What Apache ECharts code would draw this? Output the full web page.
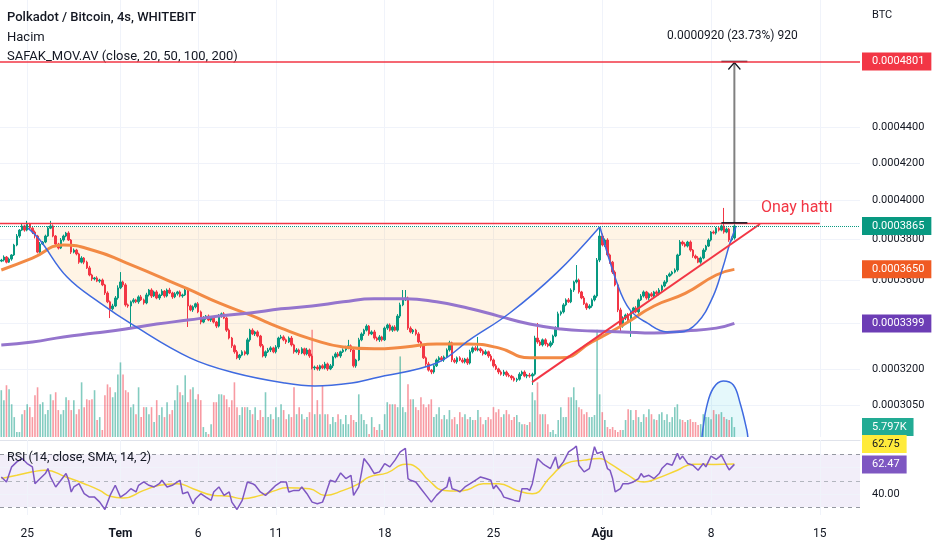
<!DOCTYPE html>
<html>
<head>
<meta charset="utf-8">
<title>Polkadot / Bitcoin</title>
<script src="https://cdn.jsdelivr.net/npm/echarts@6/dist/echarts.min.js"></script>
<style>
html,body{margin:0;padding:0;background:#ffffff;}
#chart{width:932px;height:550px;}
</style>
</head>
<body>
<div id="chart"></div>
<script>
// ---------------- DATA (prices in units of 0.0000001 BTC) ----------------
const startDate = '2022-06-23 08:00';          // first 4h candle
const categoryCount = 332;                      // candles + empty right margin
const tickDates = ['2022-06-25','2022-07-01','2022-07-06','2022-07-11','2022-07-18','2022-07-25','2022-08-01','2022-08-08','2022-08-15'];
const tickTexts = ['25','Tem','6','11','18','25','Ağu','8','15'];
const tickIsMonth = [false,true,false,false,false,false,true,false,false];

const firstOpen = 3690;
const closes = [
3695,3710,3685,3700,3720,3769,3814,3844,3865,3844,
3875,3854,3834,3814,3734,3774,3784,3814,3854,3865,
3814,3774,3754,3794,3814,3829,3794,3734,3744,3725,
3685,3705,3685,3657,3623,3604,3609,3594,3599,3576,
3538,3497,3465,3478,3515,3562,3590,3576,3483,3478,
3497,3506,3497,3520,3506,3492,3529,3552,3524,3543,
3515,3529,3547,3524,3552,3538,3520,3534,3543,3524,
3529,3552,3478,3460,3474,3488,3451,3405,3423,3432,
3414,3423,3405,3387,3432,3442,3423,3369,3334,3300,
3274,3248,3260,3274,3265,3326,3369,3352,3361,3343,
3300,3256,3274,3282,3291,3274,3295,3334,3339,3326,
3317,3334,3304,3274,3282,3269,3287,3265,3282,3256,
3205,3209,3201,3214,3205,3222,3201,3214,3252,3265,
3256,3274,3282,3291,3300,3282,3214,3239,3326,3352,
3369,3387,3352,3361,3334,3326,3339,3326,3378,3392,
3369,3383,3369,3432,3483,3506,3515,3378,3361,3369,
3352,3317,3300,3248,3222,3196,3188,3214,3239,3248,
3239,3252,3282,3313,3239,3231,3248,3239,3231,3243,
3226,3274,3291,3282,3287,3278,3265,3274,3256,3239,
3214,3201,3188,3179,3188,3175,3171,3163,3154,3158,
3179,3188,3171,3175,3171,3179,3334,3317,3304,3326,
3308,3300,3313,3343,3378,3442,3451,3483,3506,3497,
3552,3590,3599,3543,3515,3488,3469,3478,3506,3524,
3695,3814,3769,3794,3720,3685,3637,3576,3460,3387,
3423,3437,3414,3451,3469,3451,3506,3524,3543,3515,
3534,3524,3543,3534,3552,3571,3590,3618,3628,3637,
3647,3720,3784,3774,3764,3784,3744,3715,3705,3685,
3705,3744,3764,3794,3834,3829,3854,3844,3865,3834,
3849,3794,3804,3865
];
const wickUp = [
6,8,5,7,4,6,10,5,12,6, 16,6,5,8,6,10,5,7,9,26, 8,5,6,10,7,6,9,5,8,6, 6,9,5,7,10,6,5,8,6,7,
5,8,6,10,9,12,47,6,8,6, 6,8,5,7,9,6,10,5,8,6, 8,6,9,5,7,10,6,8,5,7, 6,9,8,6,7,5,8,6,9,5,
7,6,8,5,9,6,8,6,7,5, 6,8,5,7,6,9,6,8,5,7, 5,8,6,9,7,5,8,6,9,7, 6,7,9,5,8,6,7,5,9,6,
10,6,8,5,7,9,6,8,5,7, 8,5,7,9,26,6,8,5,9,7, 6,8,5,7,9,6,8,5,7,6, 7,6,8,9,10,46,37,6,8,5,
6,8,5,7,6,9,5,8,6,7, 8,6,7,9,5,8,6,7,9,5, 7,9,6,8,52,6,7,9,5,8, 6,8,5,7,9,6,8,5,7,6,
8,6,7,5,9,6,10,67,8,6, 7,5,9,6,8,10,6,8,7,9, 8,6,72,7,5,9,6,8,7,6, 10,46,12,8,9,7,6,8,6,10,
8,6,9,7,5,8,6,9,7,5, 6,8,5,7,9,6,8,5,7,6, 8,6,10,7,9,6,8,5,7,9, 7,9,6,8,5,8,6,9,7,93,
8,6,7,9
];
const wickDown = [
5,7,6,4,8,5,6,9,5,8, 6,8,10,12,6,7,5,6,4,5, 6,10,7,5,8,6,5,9,6,7, 8,6,10,5,6,9,7,5,8,6,
9,6,42,7,5,8,6,10,8,8, 100,7,6,9,5,8,6,7,9,5, 6,9,5,8,6,5,9,6,8,6, 8,5,95,6,9,7,6,10,5,8,
5,8,6,9,6,7,5,8,6,9, 8,6,9,5,7,6,8,5,9,6, 7,6,8,5,9,6,7,8,5,6, 9,5,7,8,6,9,5,7,6,8,
6,9,7,8,5,6,8,5,9,6, 6,8,5,7,6,9,7,8,5,6, 9,6,8,5,7,6,9,7,5,8, 6,8,5,7,9,6,5,8,6,9,
7,6,9,5,8,6,9,7,5,8, 6,8,5,7,9,6,8,5,6,7, 8,6,7,5,6,9,7,5,8,6, 7,5,9,6,8,7,5,9,6,8,
6,8,5,9,7,37,6,8,5,7, 8,6,7,9,5,6,8,7,6,5, 6,9,7,8,6,5,9,6,8,7, 8,10,7,9,6,8,9,7,10,26,
7,9,6,75,8,6,9,5,7,8, 9,6,8,5,7,9,6,8,5,7, 6,8,5,9,6,7,8,9,6,5, 8,6,9,5,7,6,8,7,6,8,
6,9,7,8
];
// volume in thousands (K)
const volumes = [
27.3,21.5,30.2,27.8,19.1,11.6,2.9,2.9,13.3,15.7, 19.1,17.4,11.6,24.4,29.0,19.1,20.3,13.3,15.7,
24.9,21.5,26.1,15.7,13.3,15.7,23.2,21.5,15.7,21.5, 13.3,16.2,31.9,17.4,22.0,21.5,22.0,27.3,9.9,11.6,
4.1,24.4,30.7,29.0,23.2,26.1,36.5,43.5,36.5, 27.3,26.1,17.4,19.1,13.3,29.0,11.6,17.4,17.4,13.3,
17.4,8.7,21.5,12.8,17.4,11.6,20.3,13.3,15.7,21.5, 30.2,26.1,24.4,36.0,
20.3,27.8,29.0,22.0,24.9,21.5,5.8,2.9,1.7, 7.5,20.3,20.3,24.9,24.9,24.4,22.0,17.4,21.5,
31.9,17.4,12.8,17.4,17.4,17.4,15.7,13.3,17.4,9.9, 15.7,11.6,26.1,11.6,13.3,10.4,17.4,11.6,19.1,
15.7,10.4,13.3,11.6,29.0,13.3,17.4,13.3,10.4,11.6, 14.5,62.6,13.3,21.5,13.3,30.2,13.3,13.3,7.5,11.6,
8.7,13.3,10.4,7.5,12.8,7.5,12.8,9.9,8.7, 24.9,13.3,9.9,7.5,1.7,
11.6,5.8,4.1,7.5,4.1,13.3,20.3,19.1,19.1,19.1, 17.4,47.0,17.4,14.5,30.7,22.0,22.0,17.4,15.7,
23.2,19.1,17.4,19.1,22.0,11.6,13.3,17.4,10.4,12.8, 10.4,15.7,10.4,11.6,7.5,14.5,11.6,13.3,10.4,11.6,
9.9,9.9,15.7,11.6,7.5,9.9,11.6,10.4,17.4, 14.5,16.2,11.6,13.3,15.7,13.3,9.9,11.6,12.8,8.7,
7.5,7.5,7.0,8.7,26.1,21.5,31.9,13.3,13.3, 13.3,7.5,
2.9,4.1,1.7,9.9,17.4,11.6,11.6,23.2,23.2,29.0, 21.5,17.4,16.2,13.3,14.5,11.6,11.6,12.8,62.6,24.9,
14.5,9.9,5.8,4.6,5.8,4.1,2.9,4.1,4.1,9.9, 16.2,15.7,9.9,15.7,11.6,8.7,13.3,11.6,16.2,13.3,
10.4,9.9,13.3,14.5,9.9,13.3,8.7,11.6,17.4,19.1, 10.4,9.9,8.7,9.9,10.4,8.7,8.7,7.0,7.5,
13.3,11.6,11.6,10.4,15.7,13.3,13.3,14.5,11.6,10.4,9.9,11.6,5.797
];
// moving averages read at candle indices
const maIndex = [0,12,24,36,48,60,72,84,96,108,120,132,144,156,168,180,192,204,216,228,240,252,264,276,283];
const orangeMA = [3647,3705,3769,3741,3683,3620,3557,3492,3437,3378,3328,3295,3287,3295,3308,3308,3291,3248,3248,3317,3392,3478,3536,3623,3650];
const purpleMA = [3304,3317,3339,3356,3374,3396,3414,3432,3446,3465,3478,3497,3511,3511,3497,3469,3432,3396,3374,3365,3361,3356,3365,3378,3399];
// RSI (14) and its SMA, read as [candle index, value]
const rsiPoints = [[0,52.9],[2,49.1],[4,60.6],[6,64.4],[8,66.9],[10,63.1],[12,60.6],[13,47.8],[15,51.7],[17,55.5],[18,59.3],[19,52.9],[21,45.3],[23,50.4],[25,55.5],[26,50.4],[27,41.5],[28,45.3],[30,47.8],[32,40.2],[34,37.6],[36,37.6],[38,33.8],[40,28.2],[42,38.9],[44,46.6],[46,37.6],[48,40.2],[50,44.0],[52,41.5],[53,46.6],[55,49.1],[57,46.6],[59,45.3],[61,47.8],[62,50.4],[64,45.3],[66,46.6],[68,49.1],[69,50.4],[70,40.2],[72,41.5],[74,32.5],[75,36.4],[77,40.2],[79,37.6],[81,35.1],[82,41.5],[84,45.3],[86,38.9],[88,41.5],[89,33.8],[91,28.2],[93,35.1],[95,49.1],[97,47.8],[98,46.6],[100,41.5],[102,38.9],[104,42.7],[106,46.6],[108,49.1],[110,49.1],[111,41.5],[113,42.7],[115,42.7],[116,45.3],[118,40.2],[120,33.8],[122,32.5],[124,33.8],[125,38.9],[127,50.4],[129,49.1],[131,56.0],[133,51.7],[135,54.2],[136,38.9],[138,45.3],[139,55.5],[140,66.9],[142,61.8],[144,55.5],[146,56.8],[148,63.1],[150,60.6],[152,65.7],[154,72.0],[156,74.6],[157,51.7],[158,50.4],[160,49.1],[162,44.0],[164,38.9],[166,33.8],[168,38.9],[170,42.7],[172,45.3],[173,52.9],[174,44.0],[176,42.7],[177,41.5],[179,45.3],[181,47.8],[183,50.4],[185,52.9],[187,51.7],[189,50.4],[190,44.0],[191,46.6],[193,41.5],[194,37.6],[196,36.4],[198,35.1],[200,34.3],[201,44.0],[203,44.0],[204,42.7],[205,47.8],[207,66.9],[209,63.1],[210,61.8],[212,59.3],[214,68.2],[215,59.3],[217,64.4],[219,72.0],[221,74.6],[222,76.4],[223,61.8],[225,56.8],[227,59.3],[229,75.9],[230,70.8],[232,72.0],[234,59.3],[235,58.0],[236,51.7],[237,41.5],[239,44.0],[240,47.8],[242,47.8],[244,49.1],[246,51.7],[247,55.5],[248,52.9],[250,54.2],[252,51.7],[254,55.5],[255,59.3],[257,63.1],[259,61.8],[261,70.8],[262,66.3],[263,68.8],[265,63.1],[267,61.8],[269,58.0],[271,63.1],[272,60.6],[274,68.8],[276,66.3],[278,69.5],[280,61.8],[281,58.3],[283,62.47]];
const rsiMaPoints = [[0,51.7],[6,54.2],[12,56.8],[17,58.0],[25,52.9],[32,47.8],[38,42.7],[42,38.2],[47,36.9],[55,42.7],[61,46.6],[68,47.8],[74,44.0],[82,38.9],[88,38.2],[93,36.4],[100,38.9],[106,42.7],[110,44.8],[119,44.0],[125,38.9],[132,42.7],[138,47.8],[142,52.9],[149,56.0],[156,62.6],[160,60.6],[165,50.4],[171,42.7],[176,42.2],[180,43.2],[186,47.8],[192,47.8],[199,42.7],[205,40.2],[212,52.9],[218,63.1],[225,65.7],[231,66.9],[235,63.1],[241,55.5],[248,49.1],[253,51.7],[261,58.0],[267,62.6],[275,62.4],[283,62.75]];
const rsiLevels = [70, 50, 30];
const rsiGrid = [60, 40];
const rsiTickLabels = [40];

// price scale ticks and markers
const priceTicks = [4400,4200,4000,3800,3600,3400,3200,3050];
const priceTickLabelsShown = [4400,4200,4000,3800,3600,3200,3050];
const targetPrice = 4801;
const necklinePrice = 3878;
const necklineEnd = 316;

// drawings: [candle index, price]
const cupCurve = [[10.3,3854],[14.9,3794],[25.4,3613],[38.1,3492],[50.8,3392],[72.8,3248],[90.2,3184],[109.5,3142],[121,3130],[135.3,3142],[144.2,3163],[168.1,3226],[180.8,3326],[196.3,3446],[214.4,3633],[231,3860]];
const handleCurve = [[231.1,3860],[237.7,3585],[242.7,3460],[249.3,3401],[257,3361],[262,3361],[268.6,3401],[274.7,3520],[278.6,3661],[281.3,3779],[283.6,3860]];
const chordPrice = 3860;
const trendLine = [[204.9,3146],[292.9,3875]];
const volumeArc = [[270.5,0],[270.8,4.1],[272.3,17.7],[274.9,28.6],[278.7,32.6],[282.6,30.3],[285.2,19.8],[287.8,4.1],[288.2,0]];
const measure = { at: 283, from: 3881, to: 4801, text: '0.0000920 (23.73%) 920' };
const noteText = { at: 321, price: 3878, text: 'Onay hattı' };

// ---------------- BUILD ----------------
const UP = '#089981', DOWN = '#F23645';
const VOL_UP = 'rgba(8,153,129,0.5)', VOL_DOWN = 'rgba(242,54,69,0.5)';
const ORANGE = '#F28A45', ORANGE_BOX = '#F05A22';
const PURPLE = '#9575CD', PURPLE_BOX = '#6C3DB5';
const BLUE = '#3F6AE0';
const GRID = '#f0f3fa';
const FONT = 'Roboto';
const fmtP = v => (v * 1e-7).toFixed(7);

const categories = [];
(function(){
  const t0 = Date.UTC(+startDate.slice(0,4), +startDate.slice(5,7)-1, +startDate.slice(8,10), +startDate.slice(11,13));
  const p = n => String(n).padStart(2,'0');
  for (let i = 0; i < categoryCount; i++) {
    const d = new Date(t0 + i * 4 * 3600 * 1000);
    categories.push(d.getUTCFullYear() + '-' + p(d.getUTCMonth()+1) + '-' + p(d.getUTCDate()) + ' ' + p(d.getUTCHours()) + ':00');
  }
})();
const tickIndex = tickDates.map(d => categories.indexOf(d + ' 00:00'));

const candleData = closes.map((c, i) => {
  const o = i === 0 ? firstOpen : closes[i-1];
  return [o, c, Math.min(o, c) - wickDown[i], Math.max(o, c) + wickUp[i]];
});
const volData = volumes.map((v, i) => ({ value: v, itemStyle: { color: candleData[i][1] >= candleData[i][0] ? VOL_UP : VOL_DOWN } }));
const orangeData = maIndex.map((x, k) => [x, orangeMA[k]]);
const purpleData = maIndex.map((x, k) => [x, purpleMA[k]]);

// price axis: log scale
const PRICE_MIN = 2926.2, PRICE_MAX = 5206.5;

const boxLabel = (bg, text, fg) => ({
  show: true, position: 'end', distance: 2, backgroundColor: bg, color: fg || '#ffffff',
  padding: [4, 7, 3, 10], fontSize: 11, fontFamily: FONT, formatter: () => text
});
const plainLabel = text => ({
  show: true, position: 'end', distance: 12, color: '#131722', fontSize: 11, fontFamily: FONT, formatter: () => text
});

const mainGridLines = priceTicks.map(v => ({
  yAxis: v, lineStyle: { color: GRID, width: 1, type: 'solid' },
  label: priceTickLabelsShown.includes(v) ? plainLabel(fmtP(v)) : { show: false }
})).concat(tickIndex.map(ix => ({ xAxis: ix, lineStyle: { color: GRID, width: 1, type: 'solid' }, label: { show: false } })));

const lastClose = closes[closes.length - 1];
const mainBoxes = [
  { yAxis: targetPrice, lineStyle: { color: '#F23645', width: 1.5, type: 'solid' }, label: boxLabel('#F23645', fmtP(targetPrice)) },
  { yAxis: lastClose, lineStyle: { color: UP, width: 1, type: 'dotted' }, label: boxLabel(UP, fmtP(lastClose)) },
  { yAxis: orangeMA[orangeMA.length-1], lineStyle: { color: 'transparent', width: 0 }, label: boxLabel(ORANGE_BOX, fmtP(orangeMA[orangeMA.length-1])) },
  { yAxis: purpleMA[purpleMA.length-1], lineStyle: { color: 'transparent', width: 0 }, label: boxLabel(PURPLE_BOX, fmtP(purpleMA[purpleMA.length-1])) }
];

const lastRsi = rsiPoints[rsiPoints.length-1][1];
const lastRsiMa = rsiMaPoints[rsiMaPoints.length-1][1];
const titleStyle = { fontSize: 13, fontWeight: 'normal', color: '#131722', fontFamily: FONT };

const option = {
  backgroundColor: '#ffffff',
  animation: false,
  textStyle: { fontFamily: FONT },
  title: [
    { text: 'Polkadot / Bitcoin, 4s, WHITEBIT', left: 7, top: 11, padding: 0, textStyle: Object.assign({}, titleStyle, { fontWeight: 500 }) },
    { text: 'Hacim', left: 7, top: 31, padding: 0, textStyle: titleStyle },
    { text: 'SAFAK_MOV.AV (close, 20, 50, 100, 200)', left: 7, top: 50, padding: 0, textStyle: titleStyle },
    { text: 'RSI (14, close, SMA, 14, 2)', left: 7, top: 451, padding: 0, textStyle: Object.assign({}, titleStyle, { fontSize: 12.5 }) },
    { text: 'BTC', left: 872, top: 10, padding: 0, textStyle: { fontSize: 11, fontWeight: 'normal', color: '#131722', fontFamily: FONT } }
  ],
  grid: [
    { left: 0, top: 0, width: 860, height: 437, outerBoundsMode: 'none' },
    { left: 0, top: 317, width: 860, height: 120, outerBoundsMode: 'none' },
    { left: 0, top: 440, width: 860, height: 75, outerBoundsMode: 'none' }
  ],
  xAxis: [
    { type: 'category', gridIndex: 0, data: categories, show: false },
    { type: 'value', gridIndex: 0, min: -0.5, max: categoryCount - 0.5, show: false, position: 'top' },
    { type: 'category', gridIndex: 1, data: categories, show: false },
    { type: 'category', gridIndex: 2, data: categories, position: 'bottom',
      axisLine: { show: false }, axisTick: { show: false }, splitLine: { show: false },
      axisLabel: {
        interval: (idx) => tickIndex.includes(idx),
        formatter: (val, idx) => { const k = tickIndex.indexOf(idx); if (k < 0) return ''; return tickIsMonth[k] ? '{m|' + tickTexts[k] + '}' : tickTexts[k]; },
        color: '#131722', fontSize: 12, fontFamily: FONT, margin: 13,
        rich: { m: { fontWeight: 'bold', fontSize: 12, fontFamily: FONT, color: '#131722' } }
      }
    },
    { type: 'value', gridIndex: 2, min: -0.5, max: categoryCount - 0.5, position: 'top',
      axisLine: { show: true, lineStyle: { color: '#e0e3eb', width: 1 } }, axisTick: { show: false }, axisLabel: { show: false }, splitLine: { show: false } },
    { type: 'value', gridIndex: 1, min: -0.5, max: categoryCount - 0.5, show: false, position: 'top' }
  ],
  yAxis: [
    { type: 'log', logBase: 10, gridIndex: 0, min: PRICE_MIN, max: PRICE_MAX, show: false, splitLine: { show: false } },
    { type: 'value', gridIndex: 1, min: 0, max: 70, show: false, splitLine: { show: false } },
    { type: 'value', gridIndex: 2, min: 24, max: 81, show: false, splitLine: { show: false } }
  ],
  series: [
    // grid lines + price tick labels
    { type: 'line', name: 'gridHelper', xAxisIndex: 1, yAxisIndex: 0, data: [], z: 0,
      markLine: { silent: true, symbol: ['none','none'], z: 0, animation: false, data: mainGridLines } },
    // cup & handle fills
    { type: 'line', xAxisIndex: 1, yAxisIndex: 0, data: cupCurve, smooth: 0.4, symbol: 'none', z: 1, silent: true,
      lineStyle: { width: 0, color: 'transparent' }, areaStyle: { origin: chordPrice, color: 'rgba(255,152,0,0.1)', opacity: 1 } },
    { type: 'line', xAxisIndex: 1, yAxisIndex: 0, data: handleCurve, smooth: 0.4, symbol: 'none', z: 1, silent: true,
      lineStyle: { width: 0, color: 'transparent' }, areaStyle: { origin: chordPrice, color: 'rgba(255,152,0,0.1)', opacity: 1 } },
    // volume arc fill
    { type: 'line', xAxisIndex: 5, yAxisIndex: 1, data: volumeArc, smooth: 0.4, symbol: 'none', z: 1, silent: true,
      lineStyle: { width: 0, color: 'transparent' }, areaStyle: { origin: 'start', color: 'rgba(38,198,218,0.12)', opacity: 1 } },
    // volume
    { type: 'bar', name: 'Hacim', xAxisIndex: 2, yAxisIndex: 1, data: volData, barWidth: '62%', z: 2,
      markLine: { silent: true, symbol: ['none','none'], z: 20, animation: false,
        data: [{ yAxis: volumes[volumes.length-1], lineStyle: { color: 'transparent', width: 0 }, label: boxLabel('#22AB94', volumes[volumes.length-1].toFixed(3) + 'K') }] } },
    // candles
    { type: 'candlestick', name: 'DOTBTC', xAxisIndex: 0, yAxisIndex: 0, data: candleData, barWidth: 2, z: 3,
      itemStyle: { color: UP, color0: DOWN, borderColor: UP, borderColor0: DOWN, borderWidth: 1 } },
    // moving averages
    { type: 'line', name: 'MA', xAxisIndex: 1, yAxisIndex: 0, data: orangeData, smooth: true, symbol: 'none', z: 4,
      lineStyle: { color: ORANGE, width: 3 } },
    { type: 'line', name: 'MA200', xAxisIndex: 1, yAxisIndex: 0, data: purpleData, smooth: true, symbol: 'none', z: 4,
      lineStyle: { color: PURPLE, width: 3 },
      markLine: { silent: true, symbol: ['none','none'], z: 20, animation: false, data: mainBoxes } },
    // drawings: cup and handle outlines
    { type: 'line', xAxisIndex: 1, yAxisIndex: 0, data: cupCurve, smooth: 0.4, symbol: 'none', z: 5, silent: true,
      lineStyle: { color: BLUE, width: 1.5 } },
    { type: 'line', xAxisIndex: 1, yAxisIndex: 0, data: handleCurve, smooth: 0.4, symbol: 'none', z: 5, silent: true,
      lineStyle: { color: BLUE, width: 1.5 } },
    { type: 'line', xAxisIndex: 5, yAxisIndex: 1, data: volumeArc, smooth: 0.4, symbol: 'none', z: 5, silent: true,
      lineStyle: { color: BLUE, width: 1.5 } },
    // neckline and rising trend line
    { type: 'line', xAxisIndex: 1, yAxisIndex: 0, data: [[-0.5, necklinePrice], [necklineEnd, necklinePrice]], symbol: 'none', z: 5, silent: true,
      lineStyle: { color: '#F23645', width: 1.5 } },
    { type: 'line', xAxisIndex: 1, yAxisIndex: 0, data: trendLine, symbol: 'none', z: 5, silent: true,
      lineStyle: { color: '#F23645', width: 2 } },
    // measurement tool
    { type: 'custom', xAxisIndex: 1, yAxisIndex: 0, z: 6, silent: true, data: [[measure.at, measure.to]],
      renderItem: (params, api) => {
        const top = api.coord([measure.at, measure.to]);
        const bot = api.coord([measure.at, measure.from]);
        const cx = top[0];
        return { type: 'group', children: [
          { type: 'line', shape: { x1: cx, y1: bot[1], x2: cx, y2: top[1] }, style: { stroke: '#808080', lineWidth: 2 } },
          { type: 'line', shape: { x1: cx - 13, y1: top[1], x2: cx + 13, y2: top[1] }, style: { stroke: '#131722', lineWidth: 1.5 } },
          { type: 'line', shape: { x1: cx - 13, y1: bot[1], x2: cx + 13, y2: bot[1] }, style: { stroke: '#131722', lineWidth: 1.5 } },
          { type: 'polyline', shape: { points: [[cx - 6, top[1] + 8], [cx, top[1] + 1], [cx + 6, top[1] + 8]] }, style: { stroke: '#131722', lineWidth: 1.2, fill: 'none' } },
          { type: 'text', x: cx - 2, y: top[1] - 25, style: { text: measure.text, fill: '#131722', fontSize: 12, fontFamily: FONT, align: 'center', verticalAlign: 'middle' } }
        ] };
      } },
    { type: 'custom', xAxisIndex: 1, yAxisIndex: 0, z: 6, silent: true, data: [[noteText.at, noteText.price]],
      renderItem: (params, api) => {
        const p = api.coord([noteText.at, noteText.price]);
        return { type: 'text', x: p[0], y: p[1] - 7, style: { text: noteText.text, fill: '#F23645', fontSize: 16, fontFamily: FONT, align: 'right', verticalAlign: 'bottom' } };
      } },
    // RSI pane
    { type: 'line', name: 'RSI MA', xAxisIndex: 4, yAxisIndex: 2, data: rsiMaPoints, smooth: 0.5, symbol: 'none', z: 4,
      lineStyle: { color: '#F5D535', width: 1.5 },
      markArea: { silent: true, z: 1, itemStyle: { color: 'rgba(126,87,194,0.1)' }, data: [[{ yAxis: rsiLevels[2] }, { yAxis: rsiLevels[0] }]] },
      markLine: { silent: true, symbol: ['none','none'], z: 2, animation: false,
        data: rsiLevels.map(v => ({ yAxis: v, lineStyle: { color: v === 50 ? '#b2b5be' : '#9598a1', width: 1, type: [4, 4] }, label: { show: false } }))
          .concat(rsiGrid.map(v => ({ yAxis: v, lineStyle: { color: GRID, width: 1, type: 'solid' },
            label: rsiTickLabels.includes(v) ? plainLabel(v.toFixed(2)) : { show: false } })))
          .concat(tickIndex.map(ix => ({ xAxis: ix, lineStyle: { color: GRID, width: 1, type: 'solid' }, label: { show: false } }))) } },
    { type: 'line', name: 'RSI', xAxisIndex: 4, yAxisIndex: 2, data: rsiPoints, symbol: 'none', z: 5,
      lineStyle: { color: '#7E57C2', width: 1.5 },
      markLine: { silent: true, symbol: ['none','none'], z: 20, animation: false,
        data: [
          { yAxis: lastRsiMa, lineStyle: { color: 'transparent', width: 0 }, label: Object.assign(boxLabel('#FFEB3B', lastRsiMa.toFixed(2), '#131722'), { offset: [0, -20] }) },
          { yAxis: lastRsi, lineStyle: { color: 'transparent', width: 0 }, label: boxLabel('#7E57C2', lastRsi.toFixed(2)) }
        ] } }
  ]
};

const chart = echarts.init(document.getElementById('chart'), null, { renderer: 'canvas' });
chart.setOption(option);
</script>
</body>
</html>
